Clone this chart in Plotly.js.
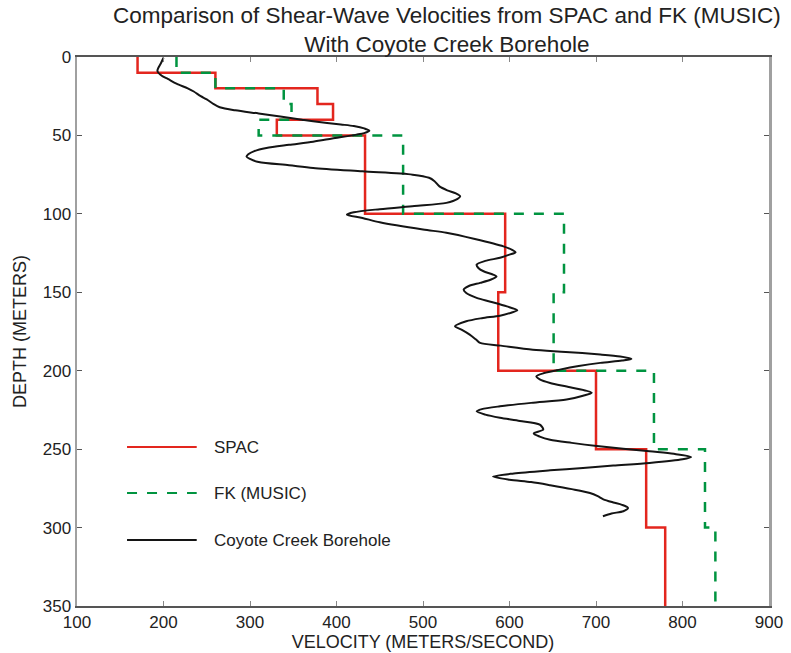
<!DOCTYPE html>
<html>
<head>
<meta charset="utf-8">
<script src="https://cdn.plot.ly/plotly-3.0.1.min.js"></script>
<style>html,body{margin:0;padding:0;background:#fff;}#chart{width:791px;height:653px;}</style>
</head>
<body>
<div id="chart"></div>
<script>
// Layer boundaries (depth, m)
var layerDepths = [0, 10, 20, 30, 40, 50, 100, 150, 200, 250, 300, 350];
// SPAC layer velocities (m/s), one per layer
var spacVel = [170, 260, 378, 396, 331, 433, 595, 587, 700, 758, 780];
// FK (MUSIC) layer velocities (m/s)
var fkVel = [215, 260, 339, 348, 310, 477, 663, 651, 767, 826, 838];

// Coyote Creek borehole profile
var boreDepth = [0.5, 4, 7, 9, 12, 14, 17, 20, 22, 25, 27, 30, 32, 34, 36, 38, 40, 41, 43, 44, 45.5, 47, 48.5, 49.5,
  52, 54, 56, 58, 60, 62, 63.5, 65, 67, 69, 70.7, 72.9, 75, 77, 79, 82.5, 85, 87, 88.8, 90.5, 93, 95, 97, 99, 100.5,
  102.6, 105.4, 110, 112, 116, 120.7, 123, 124.5, 126, 128, 130, 132.4, 134.5, 136.6, 138.5, 140, 142, 144, 146, 148.3,
  150.5, 153.6, 156, 159, 161.5, 163, 164.9, 166.5, 168.5, 171.7, 174, 177, 180, 182.3, 184, 186.6, 188, 189.7, 191,
  192.5, 193.5, 195, 197, 199.3, 201.5, 203.6, 205.5, 207.8, 210.5, 214, 216, 218.4, 220.5, 222.7, 224.5, 225.9, 228,
  230, 232, 234.4, 237.5, 240, 242, 244, 246, 248, 251.4, 253, 255, 256.5, 258.8, 260.5, 262, 263.5, 265.5, 267.5,
  269.5, 271, 273, 275.5, 278, 280, 282, 284, 285.5, 287.5, 289.6, 291, 292.8];
var boreVel = [200, 197, 194, 193, 198, 205, 215, 228, 235, 243, 250, 258, 265, 283, 310, 335, 360, 373, 405, 420, 432, 438, 432, 423,
  395, 373, 345, 319, 305, 298, 296, 300, 310, 345, 373, 430, 488, 507, 513, 519, 528, 538, 543, 540, 527, 490, 450, 420, 412,
  430, 450, 500, 527, 560, 593, 603, 607, 600, 589, 572, 562, 564, 570, 580, 585, 578, 566, 553, 547,
  550, 562, 578, 597, 609, 602, 589, 568, 550, 537, 545, 554, 561, 566, 590, 627, 665, 705, 728,
  741, 730, 705, 680, 658, 640, 631, 635, 647, 670, 695, 685, 666, 625, 589, 568, 562, 572,
  589, 612, 635, 639, 628, 635, 647, 672, 701, 762, 790, 810, 800, 762, 720, 685, 647, 605, 581,
  600, 625, 647, 672, 693, 702, 708.5, 720, 730, 737, 731.6, 718, 708];

var xTicks = [100, 200, 300, 400, 500, 600, 700, 800, 900];
var yTicks = [0, 50, 100, 150, 200, 250, 300, 350];
var seriesNames = ["SPAC", "FK (MUSIC)", "Coyote Creek Borehole"];

var FONT = "Liberation Sans Narrow, Liberation Sans, Arial, sans-serif";

function stepX(v) { return v.concat([v[v.length - 1]]); }

var traces = [
  {x: stepX(spacVel), y: layerDepths, mode: "lines", name: seriesNames[0],
   line: {color: "#e3261e", width: 2.5, shape: "vh"}},
  {x: stepX(fkVel), y: layerDepths, mode: "lines", name: seriesNames[1],
   line: {color: "#009440", width: 2.5, shape: "vh", dash: "10px,10px"}},
  {x: boreVel, y: boreDepth, mode: "lines", name: seriesNames[2],
   line: {color: "#141414", width: 2, shape: "spline", smoothing: 0.8}}
];

var legY = [0.2896, 0.2058, 0.1202];
var legColors = ["#e3261e", "#009440", "#141414"];
var legDash = ["solid", "10px,10px", "solid"];
var shapes = [], annotations = [];
for (var i = 0; i < 3; i++) {
  shapes.push({type: "line", xref: "paper", yref: "paper", x0: 0.0723, x1: 0.173, y0: legY[i], y1: legY[i],
    line: {color: legColors[i], width: 2, dash: legDash[i]}});
  annotations.push({xref: "paper", yref: "paper", x: 0.195, y: legY[i], xanchor: "left", yanchor: "middle",
    text: seriesNames[i], showarrow: false, font: {family: FONT, size: 17, color: "#222"}});
}
annotations.push({xref: "paper", yref: "paper", x: 0.535, y: 1.0, yanchor: "bottom", xanchor: "center", yshift: -2,
  text: "Comparison of Shear-Wave Velocities from SPAC and FK (MUSIC)<br>With Coyote Creek Borehole",
  showarrow: false, font: {family: FONT, size: 22.5, color: "#222"}});

var layout = {
  width: 791, height: 653,
  margin: {l: 77, r: 22, t: 57, b: 47},
  paper_bgcolor: "#fff", plot_bgcolor: "#fff",
  showlegend: false,
  font: {family: FONT, size: 17, color: "#222"},
  xaxis: {range: [100, 900], tickvals: xTicks, ticktext: xTicks.map(String),
    showgrid: false, zeroline: false, showline: true, mirror: "ticks", linecolor: "#555", linewidth: 2,
    ticks: "inside", ticklen: 5, tickcolor: "#888", tickfont: {family: FONT, size: 17, color: "#222"},
    title: {text: "VELOCITY (METERS/SECOND)", standoff: 0, font: {family: FONT, size: 18, color: "#222"}}},
  yaxis: {range: [350, 0], tickvals: yTicks, ticktext: yTicks.map(String),
    showgrid: false, zeroline: false, showline: true, mirror: "ticks", linecolor: "#a0a0a0", linewidth: 2.5,
    ticks: "inside", ticklen: 5, tickcolor: "#555", tickfont: {family: FONT, size: 17, color: "#222"},
    title: {text: "DEPTH (METERS)", standoff: 12, font: {family: FONT, size: 18, color: "#222"}}},
  shapes: shapes,
  annotations: annotations
};

Plotly.newPlot("chart", traces, layout, {displayModeBar: false, staticPlot: true});
</script>
</body>
</html>
